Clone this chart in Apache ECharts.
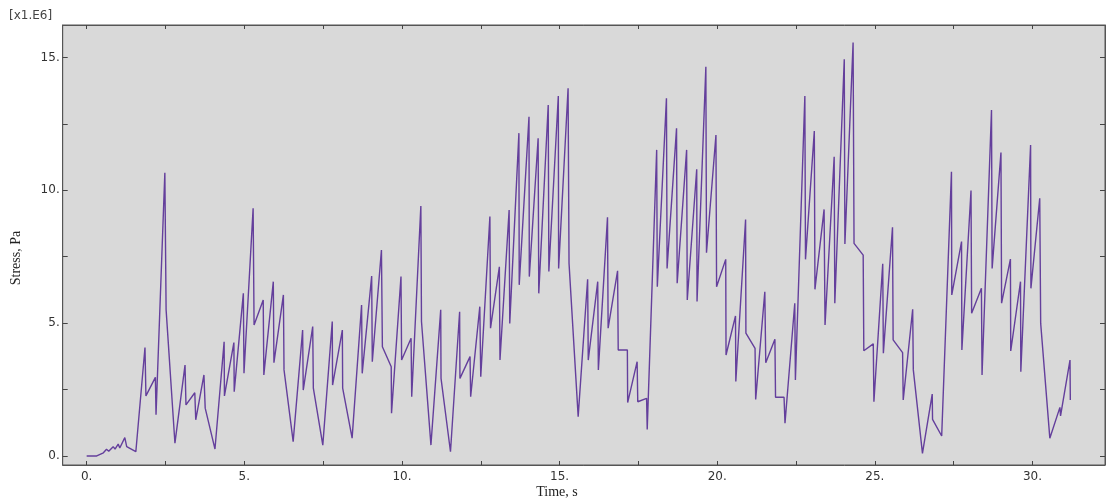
<!DOCTYPE html>
<html>
<head>
<meta charset="utf-8">
<script src="https://cdn.jsdelivr.net/npm/echarts@6/dist/echarts.min.js"></script>
<style>html,body{margin:0;padding:0;background:#fff}#c{width:1107px;height:501px}</style>
</head>
<body>
<div id="c"></div>
<script>
const time = [0,0.32,0.53,0.63,0.70,0.84,0.90,1.00,1.05,1.21,1.27,1.56,1.85,1.88,2.18,2.20,2.48,2.52,2.80,3.12,3.15,3.43,3.46,3.72,3.76,4.07,4.36,4.37,4.67,4.68,4.97,4.99,5.28,5.31,5.60,5.62,5.92,5.94,6.24,6.26,6.55,6.85,6.87,7.17,7.19,7.49,7.79,7.80,8.11,8.12,8.42,8.72,8.74,9.04,9.06,9.35,9.38,9.66,9.67,9.97,9.99,10.29,10.31,10.60,10.62,10.92,11.23,11.24,11.54,11.83,11.84,12.16,12.18,12.47,12.50,12.79,12.81,13.09,13.11,13.40,13.42,13.71,13.72,14.03,14.04,14.32,14.34,14.64,14.66,14.96,14.97,15.27,15.30,15.59,15.89,15.91,16.21,16.23,16.52,16.54,16.84,16.86,17.15,17.16,17.46,17.48,17.76,17.78,18.08,18.10,18.39,18.41,18.71,18.73,19.03,19.05,19.35,19.36,19.64,19.66,19.96,19.98,20.27,20.28,20.58,20.59,20.90,20.91,21.20,21.22,21.51,21.54,21.83,21.85,22.12,22.15,22.46,22.48,22.78,22.80,23.08,23.10,23.39,23.42,23.71,23.73,24.03,24.05,24.31,24.34,24.63,24.65,24.95,24.97,25.25,25.27,25.56,25.58,25.88,25.90,26.20,26.22,26.51,26.82,26.83,27.12,27.43,27.44,27.75,27.76,28.05,28.07,28.38,28.40,28.70,28.72,29.00,29.02,29.30,29.31,29.62,29.63,29.94,29.95,30.23,30.26,30.55,30.87,30.89,31.19,31.20];
const stress = [0,0,0.12,0.25,0.18,0.35,0.26,0.45,0.30,0.69,0.35,0.16,4.08,2.26,2.96,1.55,10.66,5.5,0.48,3.42,1.92,2.38,1.36,3.05,1.8,0.26,4.3,2.26,4.27,2.42,6.12,3.11,9.32,4.93,5.87,3.05,6.56,3.51,6.06,3.24,0.54,4.74,2.48,4.87,2.55,0.41,5.06,2.67,4.74,2.55,0.67,5.68,3.11,6.77,3.55,7.75,4.11,3.36,1.61,6.75,3.61,4.43,2.23,9.41,5.06,0.41,5.5,2.92,0.16,5.43,2.92,3.74,2.23,5.62,2.98,9.01,4.81,7.12,3.61,9.26,4.99,12.15,6.44,12.77,6.75,11.96,6.12,13.21,6.94,13.55,7.06,13.84,7.25,1.48,6.65,3.61,6.56,3.24,8.98,4.81,6.97,3.99,3.99,2.01,3.55,2.04,2.17,1.0,11.52,6.37,13.46,7.06,12.33,6.5,11.52,5.87,10.79,5.81,14.65,7.65,12.08,6.37,7.4,3.8,5.27,2.8,8.9,4.62,4.05,2.13,6.18,3.51,4.39,2.21,2.21,1.23,5.75,2.86,13.55,7.4,12.23,6.27,9.28,4.93,11.26,5.75,14.93,7.98,15.56,8.0,7.56,3.96,4.22,2.04,7.23,3.87,8.61,4.37,3.89,2.11,5.52,3.24,0.1,2.33,1.38,0.75,10.7,6.06,8.07,3.99,9.99,5.37,6.31,3.05,13.02,7.06,11.42,5.75,7.41,3.95,6.56,3.17,11.7,6.31,9.7,4.99,0.67,1.83,1.51,3.61,2.11];
const xLabelValues = [0,5,10,15,20,25,30];
const xTickValues = [0,2.5,5,7.5,10,12.5,15,17.5,20,22.5,25,27.5,30];
const yLabelValues = [0,5,10,15];
const yTickValues = [0,2.5,5,7.5,10,12.5,15];

const chart = echarts.init(document.getElementById('c'), null, {renderer:'canvas'});
const data = time.map((t,i)=>[t, stress[i]]);
const axisLineStyle = {show:true, onZero:false, lineStyle:{color:'#555', width:1}};
const labelStyle = {fontFamily:'DejaVu Sans', fontSize:12, color:'#333'};
const fmt = v => String(v) + '.';
chart.setOption({
  animation:false,
  backgroundColor:'#ffffff',
  grid:{left:62.7, top:25, right:2, bottom:36, show:true, backgroundColor:'#d9d9d9', borderColor:'#555', borderWidth:1},
  xAxis:[
    {type:'value', position:'bottom', min:-0.76, max:32.3, axisLine:axisLineStyle,
     axisTick:{show:true, inside:true, length:4, customValues:xTickValues, lineStyle:{color:'#444'}},
     axisLabel:Object.assign({show:true, customValues:xLabelValues, formatter:fmt, margin:6}, labelStyle),
     splitLine:{show:false}},
    {type:'value', position:'top', min:-0.76, max:32.3, axisLine:axisLineStyle,
     axisTick:{show:true, inside:true, length:4, customValues:xTickValues, lineStyle:{color:'#444'}},
     axisLabel:{show:false}, splitLine:{show:false}}
  ],
  yAxis:[
    {type:'value', position:'left', min:-0.34, max:16.22, axisLine:axisLineStyle,
     axisTick:{show:true, inside:true, length:5, customValues:yTickValues, lineStyle:{color:'#444'}},
     axisLabel:Object.assign({show:true, customValues:yLabelValues, formatter:fmt, margin:3}, labelStyle),
     splitLine:{show:false}},
    {type:'value', position:'right', min:-0.34, max:16.22, axisLine:axisLineStyle,
     axisTick:{show:true, inside:true, length:5, customValues:yTickValues, lineStyle:{color:'#444'}},
     axisLabel:{show:false}, splitLine:{show:false}}
  ],
  graphic:[
    {type:'text', left:9, top:10, style:{text:'[x1.E6]', font:'12px "DejaVu Sans"', fill:'#444'}},
    {type:'text', x:16, y:258, rotation:Math.PI/2, style:{text:'Stress, Pa', font:'14px "Liberation Serif"', fill:'#222', align:'center', verticalAlign:'middle'}},
    {type:'text', x:557, y:492, style:{text:'Time, s', font:'14px "Liberation Serif"', fill:'#222', align:'center', verticalAlign:'middle'}}
  ],
  series:[{
    type:'line', xAxisIndex:0, yAxisIndex:0, data:data, showSymbol:false, symbol:'none',
    lineStyle:{color:'#643f9c', width:1.4}
  }]
});
</script>
</body>
</html>
